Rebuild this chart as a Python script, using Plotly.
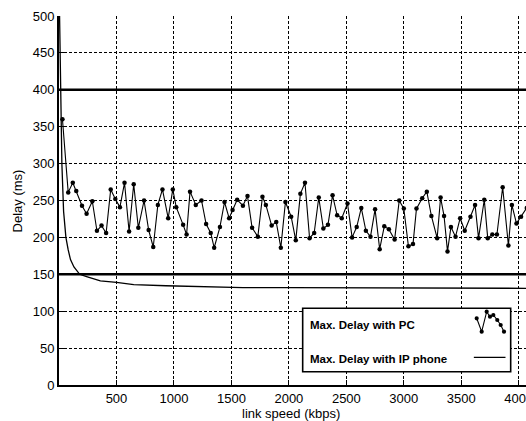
import plotly.graph_objects as go

# ---- data ----
pc_speed = [30, 80, 120, 150, 200, 240, 290, 330, 370, 410, 450, 490, 530, 570, 610,
            650, 690, 740, 780, 820, 860, 900, 950, 990, 1020, 1080, 1110, 1140, 1190,
            1240, 1280, 1320, 1350, 1400, 1440, 1480, 1510, 1550, 1600, 1640, 1680,
            1730, 1770, 1800, 1850, 1890, 1930, 1970, 2020, 2060, 2100, 2140, 2180,
            2220, 2260, 2300, 2340, 2380, 2420, 2460, 2510, 2550, 2590, 2630, 2670,
            2710, 2750, 2790, 2830, 2870, 2920, 2960, 3000, 3040, 3080, 3110, 3160,
            3200, 3240, 3290, 3320, 3350, 3380, 3410, 3450, 3490, 3530, 3580, 3620,
            3650, 3700, 3730, 3770, 3810, 3860, 3910, 3940, 3980, 4020, 4070]
pc_delay = [360, 261, 274, 263, 243, 232, 249, 209, 216, 206, 265, 252, 241, 274, 208,
            272, 213, 250, 210, 187, 244, 265, 226, 265, 241, 217, 204, 262, 244,
            250, 218, 206, 186, 214, 248, 226, 237, 251, 243, 256, 213,
            201, 255, 244, 216, 221, 186, 248, 228, 196, 259, 274, 199,
            206, 254, 212, 217, 257, 230, 226, 246, 200, 214, 240, 209,
            201, 238, 184, 215, 211, 197, 250, 239, 188, 191, 239, 253,
            262, 229, 199, 254, 229, 181, 214, 201, 226, 209, 228, 244,
            199, 251, 199, 204, 204, 268, 189, 244, 219, 228, 240]

phone_speed = [5, 15, 25, 40, 60, 80, 100, 130, 180, 240, 300, 360, 500, 650, 930,
               1300, 1600, 2000, 2500, 3000, 3500, 4070]
phone_delay = [500, 400, 300, 235, 200, 183, 170, 160, 150, 147, 144, 141, 139, 136,
               134.5, 133, 132, 132, 132, 131.5, 131, 131]

limit_levels = [400, 150]

x_ticks = [500, 1000, 1500, 2000, 2500, 3000, 3500, 4000]
y_ticks = [0, 50, 100, 150, 200, 250, 300, 350, 400, 450, 500]

legend_labels = ["Max. Delay with PC", "Max. Delay with IP phone"]

FONT = "Liberation Sans, Arial, sans-serif"

fig = go.Figure()
fig.add_trace(go.Scatter(x=phone_speed, y=phone_delay, mode="lines",
                         line=dict(color="black", width=1.3),
                         name=legend_labels[1], showlegend=False))
fig.add_trace(go.Scatter(x=pc_speed, y=pc_delay, mode="lines+markers",
                         line=dict(color="black", width=1.1),
                         marker=dict(color="black", size=4.5),
                         name=legend_labels[0], showlegend=False))

shapes = []
for lv in limit_levels:
    shapes.append(dict(type="line", xref="paper", x0=0, x1=1, yref="y", y0=lv, y1=lv,
                       line=dict(color="black", width=2.6), layer="above"))

# manual legend box (symbols on the right as in the reference)
shapes.append(dict(type="rect", xref="paper", yref="paper", x0=0.5218, x1=0.9672,
                   y0=0.036, y1=0.2079, fillcolor="white",
                   line=dict(color="black", width=1.6), layer="above"))
shapes.append(dict(type="line", xref="paper", yref="paper", x0=0.8883, x1=0.9561,
                   y0=0.0751, y1=0.0751, line=dict(color="black", width=1.3), layer="above"))
glyph = [(0.8944, 0.1808), (0.9051, 0.1444), (0.9158, 0.1986), (0.9229, 0.1851),
         (0.9300, 0.1897), (0.9385, 0.1762), (0.9458, 0.1626), (0.9529, 0.1444)]
path = "M " + " L ".join(f"{gx} {gy}" for gx, gy in glyph)
shapes.append(dict(type="path", xref="paper", yref="paper", path=path,
                   line=dict(color="black", width=1.1), layer="above"))
for gx, gy in glyph:
    shapes.append(dict(type="circle", xref="paper", yref="paper",
                       x0=gx - 0.0045, x1=gx + 0.0045, y0=gy - 0.0057, y1=gy + 0.0057,
                       fillcolor="black", line=dict(color="black", width=0), layer="above"))

annotations = [
    dict(text=legend_labels[0], xref="paper", yref="paper", x=0.5338, y=0.1626,
         xanchor="left", yanchor="middle", showarrow=False,
         font=dict(family=FONT, size=11.5, color="black", weight="bold")),
    dict(text=legend_labels[1], xref="paper", yref="paper", x=0.5338, y=0.0705,
         xanchor="left", yanchor="middle", showarrow=False,
         font=dict(family=FONT, size=11.5, color="black", weight="bold")),
    dict(text="Delay (ms)", xref="paper", yref="paper", x=-0.088, y=0.5,
         xanchor="center", yanchor="middle", textangle=-90, showarrow=False,
         font=dict(family=FONT, size=13, color="black")),
    dict(text="link speed (kbps)", xref="paper", yref="paper", x=0.497, y=-0.076,
         xanchor="center", yanchor="middle", showarrow=False,
         font=dict(family=FONT, size=13, color="black")),
]

fig.update_layout(
    width=526, height=421,
    margin=dict(l=59, r=0, t=16, b=36, autoexpand=False),
    paper_bgcolor="white", plot_bgcolor="white",
    font=dict(family=FONT, size=13, color="black"),
    shapes=shapes, annotations=annotations,
    showlegend=False,
)
fig.update_xaxes(range=[0, 4063], tickvals=x_ticks, ticktext=[str(v) for v in x_ticks],
                 automargin=False, ticklabeloverflow="allow",
                 showgrid=True, gridcolor="black", griddash="3px,2px", gridwidth=1.3,
                 showline=True, linecolor="black", linewidth=2,
                 ticks="inside", ticklen=5, tickcolor="black", tickwidth=1.3,
                 zeroline=False, tickfont=dict(family=FONT, size=13, color="black"))
fig.update_yaxes(range=[0, 500], tickvals=y_ticks, ticktext=[str(v) for v in y_ticks],
                 automargin=False, ticklabeloverflow="allow",
                 showgrid=True, gridcolor="black", griddash="3px,2px", gridwidth=1.3,
                 showline=True, linecolor="black", linewidth=2,
                 ticks="inside", ticklen=5, tickcolor="black", tickwidth=1.3,
                 zeroline=False, tickfont=dict(family=FONT, size=13, color="black"))

fig.write_html("out.html", config={"displayModeBar": False},
               post_script="document.body.style.margin='0';document.body.style.overflow='hidden';")
